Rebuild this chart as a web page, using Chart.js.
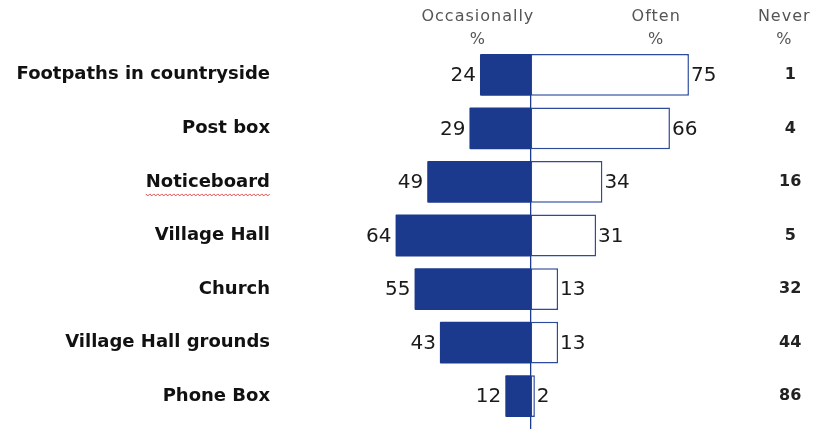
<!DOCTYPE html>
<html>
<head>
<meta charset="utf-8">
<script src="https://cdn.jsdelivr.net/npm/chart.js@4.4.0/dist/chart.umd.min.js"></script>
<style>
    html, body { margin: 0; padding: 0; background: #ffffff; }
    #wrap { width: 817px; height: 429px; position: relative; }
</style>
</head>
<body>
<div id="wrap"><canvas id="usage_x"></canvas></div>
<script>
// values
let categories = ["Footpaths in countryside", "Post box", "Noticeboard", "Village Hall", "Church", "Village Hall grounds", "Phone Box"];
let occasionally = [24, 29, 49, 64, 55, 43, 12];
let often = [75, 66, 34, 31, 13, 13, 2];
let never = [1, 4, 16, 5, 32, 44, 86];
let headers = [["Occasionally", "%"], ["Often", "%"], ["Never", "%"]];

const navy = "#1b3a8e";
const labelFont = 'bold 18px "DejaVu Sans", Verdana, sans-serif';

// draws value labels, headers, the zero line and the never column
const extras = {
    id: 'extras',
    afterDatasetsDraw(chart) {
        const ctx = chart.ctx;
        const xs = chart.scales.x;
        const ys = chart.scales.y;
        const zero = xs.getPixelForValue(0);
        const occ = chart.getDatasetMeta(0).data;
        const oft = chart.getDatasetMeta(1).data;
        ctx.save();

        // zero line
        ctx.strokeStyle = navy;
        ctx.lineWidth = 1.3;
        ctx.beginPath();
        ctx.moveTo(zero, occ[0].y - occ[0].height / 2);
        ctx.lineTo(zero, chart.height);
        ctx.stroke();

        ctx.textBaseline = 'middle';
        ctx.fillStyle = "#1a1a1a";
        ctx.font = '20px "DejaVu Sans", Verdana, sans-serif';
        for (let i = 0; i < categories.length; i++) {
            ctx.textAlign = 'right';
            ctx.fillText(String(occasionally[i]), occ[i].x - 4, occ[i].y + 1);
            ctx.textAlign = 'left';
            ctx.fillText(String(often[i]), oft[i].x + 2, oft[i].y + 1);
        }

        // never column
        const neverX = xs.getPixelForValue(123);
        ctx.font = 'bold 16px "DejaVu Sans", Verdana, sans-serif';
        ctx.textAlign = 'center';
        ctx.fillStyle = "#222222";
        for (let i = 0; i < categories.length; i++) {
            ctx.fillText(String(never[i]), neverX, occ[i].y);
        }

        // headers
        const hx = [xs.getPixelForValue(-25), xs.getPixelForValue(59.5), neverX - 6];
        ctx.font = '16px "DejaVu Sans", Verdana, sans-serif';
        ctx.letterSpacing = '1px';
        ctx.fillStyle = "#555555";
        for (let h = 0; h < headers.length; h++) {
            ctx.fillText(headers[h][0], hx[h], 17);
            ctx.fillText(headers[h][1], hx[h], 40);
        }
        ctx.letterSpacing = '0px';

        // spell-check squiggle under Noticeboard
        const ny = ys.getPixelForValue(2) + 12;
        const nRight = ys.right;
        ctx.font = labelFont;
        const nw = ctx.measureText(categories[2]).width;
        ctx.strokeStyle = "#e04848";
        ctx.lineWidth = 1;
        ctx.beginPath();
        let up = true;
        ctx.moveTo(nRight - nw, ny);
        for (let x = nRight - nw + 2; x <= nRight; x += 2) {
            up = !up;
            ctx.lineTo(x, ny + (up ? 0 : 2));
        }
        ctx.stroke();
        ctx.restore();
    }
};

let datax = {
    labels: categories,
    datasets: [
        {
            label: "Occasionally",
            data: occasionally.map(v => -v),
            backgroundColor: navy,
            borderColor: navy,
            borderWidth: 0,
            borderRadius: 1,
            borderSkipped: false,
        },
        {
            label: "Often",
            data: often,
            backgroundColor: "#ffffff",
            borderColor: "#2d4b9c",
            borderWidth: 1.5,
            borderSkipped: false,
        },
    ],
};

let optionx = {
    responsive: true,
    maintainAspectRatio: false,
    animation: false,
    indexAxis: 'y',
    layout: { padding: { top: 48, bottom: 6, right: 12, left: 0 } },
    plugins: {
        legend: { display: false },
        tooltip: { enabled: false },
    },
    datasets: {
        bar: { categoryPercentage: 1.0, barPercentage: 0.78 },
    },
    scales: {
        x: {
            stacked: true,
            display: false,
            min: -123.5,
            max: 130,
        },
        y: {
            stacked: true,
            grid: { display: false, drawTicks: false },
            border: { display: false },
            afterFit: function (scale) {
                scale.width = 270;
                scale.paddingTop = 0;
                scale.paddingBottom = 0;
            },
            ticks: {
                color: "#111111",
                padding: 0,
                font: { family: '"DejaVu Sans", Verdana, sans-serif', size: 18, weight: 'bold' },
            },
        },
    },
};

var ctx = document.getElementById("usage_x").getContext("2d");
var myChart = new Chart(ctx, {
    type: "bar",
    data: datax,
    options: optionx,
    plugins: [extras],
});
</script>
</body>
</html>
